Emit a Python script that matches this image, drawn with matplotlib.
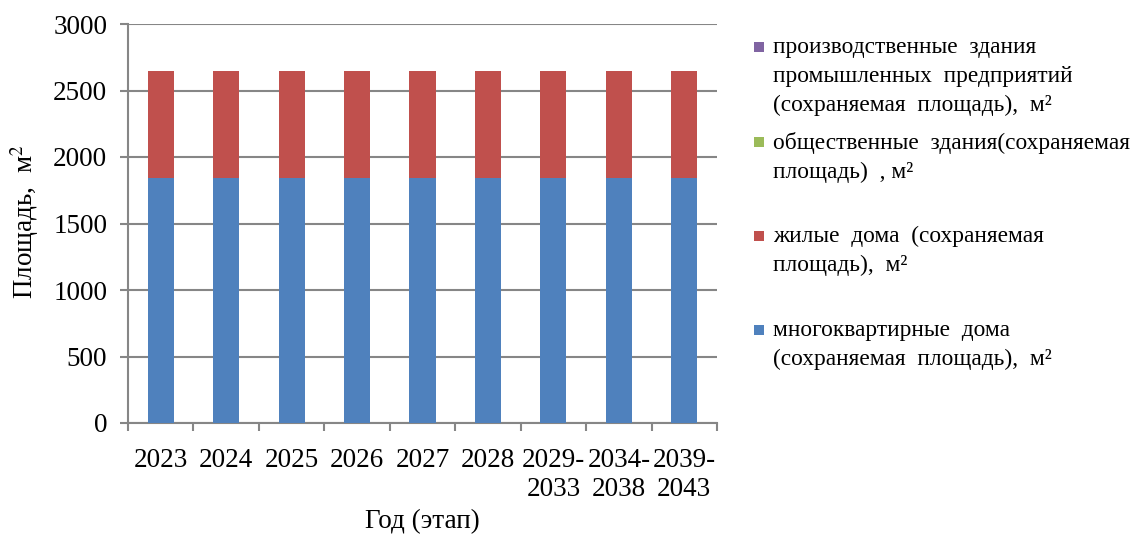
import matplotlib
matplotlib.use("Agg")
import matplotlib.pyplot as plt
from matplotlib.patches import Rectangle
import numpy as np

categories = ["2023", "2024", "2025", "2026", "2027", "2028",
              "2029-\n2033", "2034-\n2038", "2039-\n2043"]
apartment = [1840, 1840, 1840, 1840, 1840, 1840, 1840, 1840, 1840]
residential = [810, 810, 810, 810, 810, 810, 810, 810, 810]
public = [0, 0, 0, 0, 0, 0, 0, 0, 0]
industrial = [0, 0, 0, 0, 0, 0, 0, 0, 0]

series_labels = [
    "многоквартирные  дома\n(сохраняемая  площадь),  м²",
    "жилые  дома  (сохраняемая\nплощадь),  м²",
    "общественные  здания(сохраняемая\nплощадь)  , м²",
    "производственные  здания\nпромышленных  предприятий\n(сохраняемая  площадь),  м²",
]
series_values = [apartment, residential, public, industrial]
colors = ["#4F81BD", "#C0504D", "#9BBB59", "#8064A2"]
yticks = [0, 500, 1000, 1500, 2000, 2500, 3000]

plt.rcParams['font.family'] = ['Liberation Serif', 'DejaVu Serif']
plt.rcParams['mathtext.fontset'] = 'stix'

fig = plt.figure(figsize=(11.33, 5.35), dpi=100)
ax = fig.add_axes([128/1133, 1-423/535, (717-128)/1133, (423-24)/535])

x = np.arange(len(categories))
bottom = np.zeros(len(categories))
for vals, col in zip(series_values, colors):
    v = np.array(vals, dtype=float)
    ax.bar(x, v, width=0.4, bottom=bottom, color=col, zorder=3)
    bottom += v

ax.set_xlim(-0.5, len(categories) - 0.5)
ax.set_ylim(0, 3000)
ax.set_yticks(yticks)
ax.set_yticklabels([str(t) for t in yticks])
ax.yaxis.grid(True, color="#868686", linewidth=1.5, zorder=0)
ax.set_axisbelow(True)

ax.set_xticks(np.arange(len(categories) + 1) - 0.5)
ax.set_xticklabels([])
ax.set_xticks(x, minor=True)
ax.set_xticklabels(categories, minor=True, fontsize=19.5, linespacing=1.2)
ax.tick_params(axis='x', which='minor', length=0, pad=18)
ax.tick_params(axis='x', which='major', length=6, width=1.5, color="#868686")
ax.tick_params(axis='y', length=6, width=1.5, color="#868686", labelsize=19.5, pad=9)

for s in ["top", "right"]:
    ax.spines[s].set_visible(False)
for s in ["left", "bottom"]:
    ax.spines[s].set_color("#868686")
    ax.spines[s].set_linewidth(1.5)

fig.text(25/1133, 1-222/535, "Площадь,  м$^2$", rotation=90, ha='center', va='center', fontsize=19.5)
fig.text(422/1133, 1-522/535, "Год (этап)", ha='center', va='center', fontsize=19.5)

# legend (top to bottom: reverse stacking order)
first_line_y = [48, 143, 237, 331]
for i, (lab, col) in enumerate(zip(series_labels[::-1], colors[::-1])):
    yc = first_line_y[i]
    fig.patches.append(Rectangle((754/1133, 1-(yc+4)/535), 10/1133, 10/535,
                                 transform=fig.transFigure, facecolor=col, edgecolor='none'))
    fig.text(773/1133, 1-(yc-11)/535, lab, ha='left', va='top', fontsize=16.8, linespacing=1.5)

fig.savefig("out.png", dpi=100)
